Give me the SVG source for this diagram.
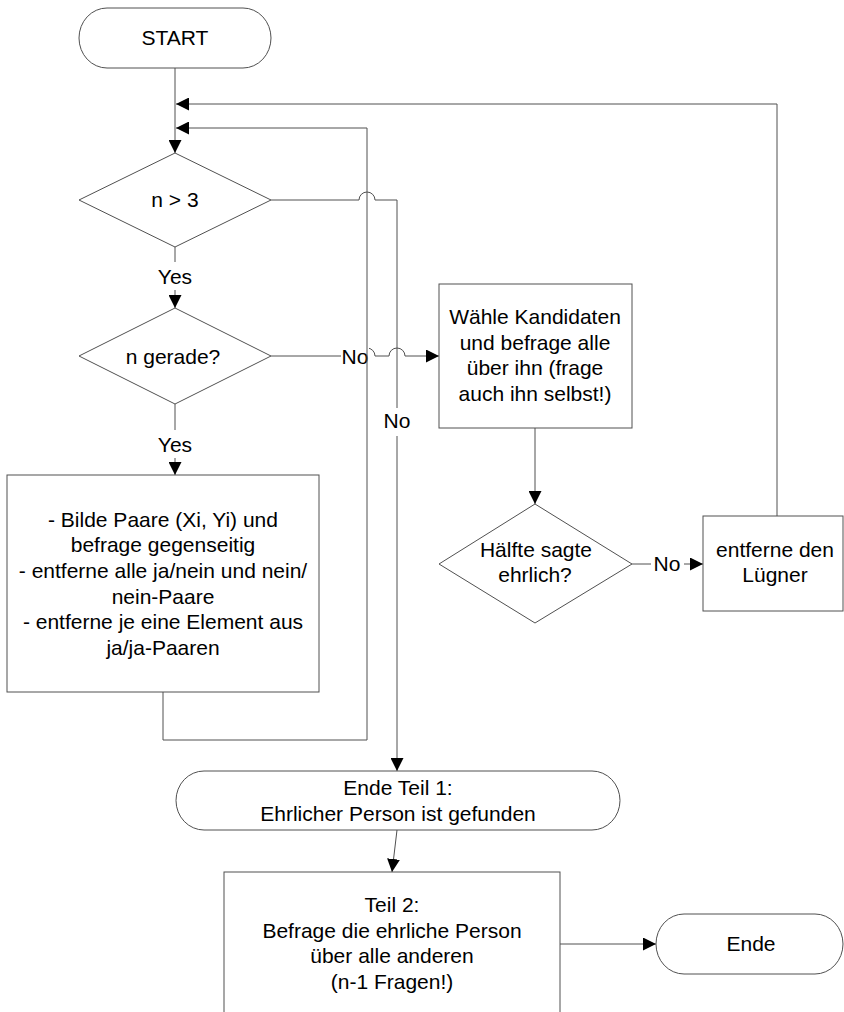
<svg xmlns="http://www.w3.org/2000/svg" width="844" height="1012" viewBox="0 0 844 1012">
<style>
.s{fill:#fff;stroke:#505050;stroke-width:1}
.c{fill:none;stroke:#505050;stroke-width:1}
.t{font-family:"Liberation Sans",Arial,sans-serif;font-size:21px;fill:#000;text-anchor:middle}
.bg{fill:#fff;stroke:none}
</style>
<defs>
<marker id="a" markerUnits="userSpaceOnUse" markerWidth="13" markerHeight="13" refX="13" refY="6.5" orient="auto">
<path d="M0,0 L13,6.5 L0,13 z" fill="#000"/>
</marker>
</defs>
<rect width="844" height="1012" fill="#fff"/>
<g id="connectors">
<path class="c" d="M175,68 V153" marker-end="url(#a)"/>
<path class="c" d="M175,247 V308" marker-end="url(#a)"/>
<path class="c" d="M175,404 V475" marker-end="url(#a)"/>
<path class="c" d="M271,200 H359 A8,8 0 0 1 375,200 H397 V771" marker-end="url(#a)"/>
<path class="c" d="M271,356 H359 A8,8 0 0 1 375,356 H389 A8,8 0 0 1 405,356 H439" marker-end="url(#a)"/>
<path class="c" d="M535,428 V504" marker-end="url(#a)"/>
<path class="c" d="M632,564 H703" marker-end="url(#a)"/>
<path class="c" d="M777,516 V104 H176" marker-end="url(#a)"/>
<path class="c" d="M397,830 L392,872" marker-end="url(#a)"/>
<path class="c" d="M560,944 H656" marker-end="url(#a)"/>
<rect class="bg" x="158" y="262" width="34" height="28"/>
<text class="t" x="175" y="284">Yes</text>
<rect class="bg" x="158" y="430" width="34" height="28"/>
<text class="t" x="175" y="452">Yes</text>
<rect class="bg" x="382" y="408" width="30" height="28"/>
<text class="t" x="397" y="428">No</text>
<rect class="bg" x="341" y="344" width="28" height="26"/>
<text class="t" x="355" y="364">No</text>
<rect class="bg" x="651" y="552" width="33" height="24"/>
<text class="t" x="667" y="571">No</text>
<path class="c" d="M163,692 V740 H367 V128 H176" marker-end="url(#a)"/>
</g>
<g id="start">
<rect class="s" x="79" y="8" width="192" height="60" rx="28" ry="30"/>
<text class="t" x="175" y="45">START</text>
</g>
<g id="n_gt_3">
<polygon class="s" points="79,200 175,153 271,200 175,247"/>
<text class="t" x="175" y="207">n &gt; 3</text>
</g>
<g id="n_gerade">
<polygon class="s" points="79,356 175,308 271,356 175,404"/>
<text class="t" x="173" y="364">n gerade?</text>
</g>
<g id="paare">
<rect class="s" x="7" y="475" width="312" height="217"/>
<text class="t" x="163" y="527">- Bilde Paare (Xi, Yi) und</text>
<text class="t" x="163" y="552">befrage gegenseitig</text>
<text class="t" x="163" y="578">- entferne alle ja/nein und nein/</text>
<text class="t" x="163" y="604">nein-Paare</text>
<text class="t" x="163" y="629">- entferne je eine Element aus</text>
<text class="t" x="163" y="655">ja/ja-Paaren</text>
</g>
<g id="kandidat">
<rect class="s" x="439" y="284" width="193" height="144"/>
<text class="t" x="535" y="324">Wähle Kandidaten</text>
<text class="t" x="535" y="350">und befrage alle</text>
<text class="t" x="535" y="375">über ihn (frage</text>
<text class="t" x="535" y="401">auch ihn selbst!)</text>
</g>
<g id="haelfte">
<polygon class="s" points="439,564 535,504 632,564 535,623"/>
<text class="t" x="536" y="557">Hälfte sagte</text>
<text class="t" x="535" y="582">ehrlich?</text>
</g>
<g id="luegner">
<rect class="s" x="703" y="516" width="140" height="95"/>
<text class="t" x="775" y="557">entferne den</text>
<text class="t" x="775" y="582">Lügner</text>
</g>
<g id="ende_teil1">
<rect class="s" x="176" y="771" width="444" height="59" rx="28" ry="29.5"/>
<text class="t" x="398" y="795">Ende Teil 1:</text>
<text class="t" x="398" y="821">Ehrlicher Person ist gefunden</text>
</g>
<g id="teil2">
<rect class="s" x="224" y="872" width="336" height="160"/>
<text class="t" x="392" y="912">Teil 2:</text>
<text class="t" x="392" y="938">Befrage die ehrliche Person</text>
<text class="t" x="392" y="963">über alle anderen</text>
<text class="t" x="392" y="989">(n-1 Fragen!)</text>
</g>
<g id="ende">
<rect class="s" x="656" y="914" width="187" height="60" rx="28" ry="30"/>
<text class="t" x="751" y="951">Ende</text>
</g>
</svg>
